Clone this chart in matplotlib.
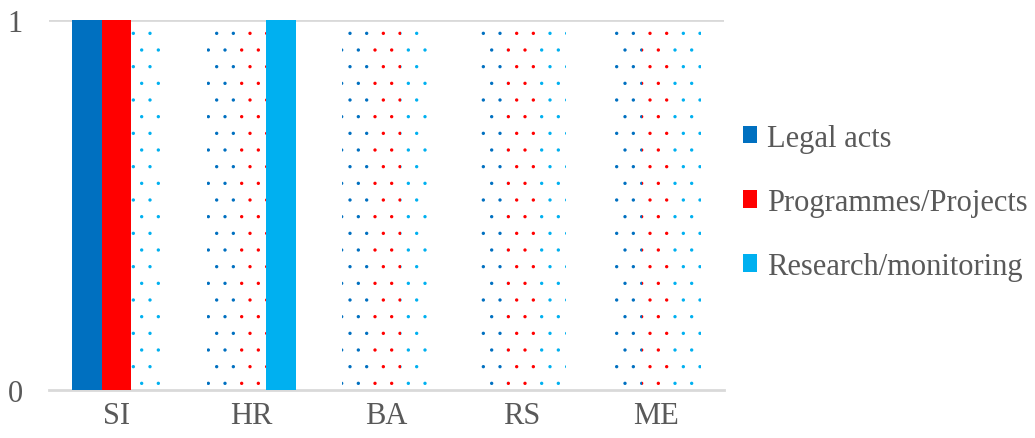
import numpy as np
import matplotlib.pyplot as plt
from matplotlib.patches import Patch

countries = ["SI", "HR", "BA", "RS", "ME"]
series = ["Legal acts", "Programmes/Projects", "Research/monitoring"]
legal = [1, 0, 0, 0, 0]
programmes = [1, 0, 0, 0, 0]
research = [0, 1, 0, 0, 0]
colors = ["#0070C0", "#FF0000", "#00B0F0"]

plt.rcParams['font.family'] = ['Liberation Serif', 'DejaVu Serif']
plt.rcParams['hatch.linewidth'] = 0.0
text_color = "#595959"

fig = plt.figure(figsize=(10.35, 4.39), dpi=100)
ax = fig.add_axes([49 / 1035, 1 - 390.5 / 439, 675 / 1035, 369.5 / 439])

x = np.arange(len(countries))
width = 0.218
for i, (vals, col) in enumerate(zip([legal, programmes, research], colors)):
    vals = np.array(vals, dtype=float)
    pos = x + (i - 1) * width
    # filled part = value, dotted remainder up to 1
    ax.bar(pos, vals, width, color=col, linewidth=0, zorder=3)
    ax.bar(pos, 1 - vals, width, bottom=vals, facecolor="none",
           edgecolor=col, hatch=".", linewidth=0, zorder=3)

ax.set_xlim(-0.5, len(countries) - 0.5)
ax.set_ylim(0, 1)
ax.set_yticks([0, 1])
ax.set_xticks(x)
ax.set_xticklabels(countries)
ax.axhline(1, color="#D9D9D9", lw=2, zorder=1)
for s in ["top", "right", "left"]:
    ax.spines[s].set_visible(False)
ax.spines["bottom"].set_color("#D9D9D9")
ax.spines["bottom"].set_linewidth(2)
ax.tick_params(length=0, labelsize=22, colors=text_color, pad=8)
ax.tick_params(axis="y", pad=19)

handles = [Patch(facecolor=c, edgecolor="none") for c in colors]
fig.legend(handles, series, loc="center left", bbox_to_anchor=(715 / 1035, 0.537),
           frameon=False, fontsize=22, labelcolor=text_color,
           handlelength=0.49, handleheight=0.49, handletextpad=0.3,
           labelspacing=1.15)

fig.savefig("out.png", dpi=100)
